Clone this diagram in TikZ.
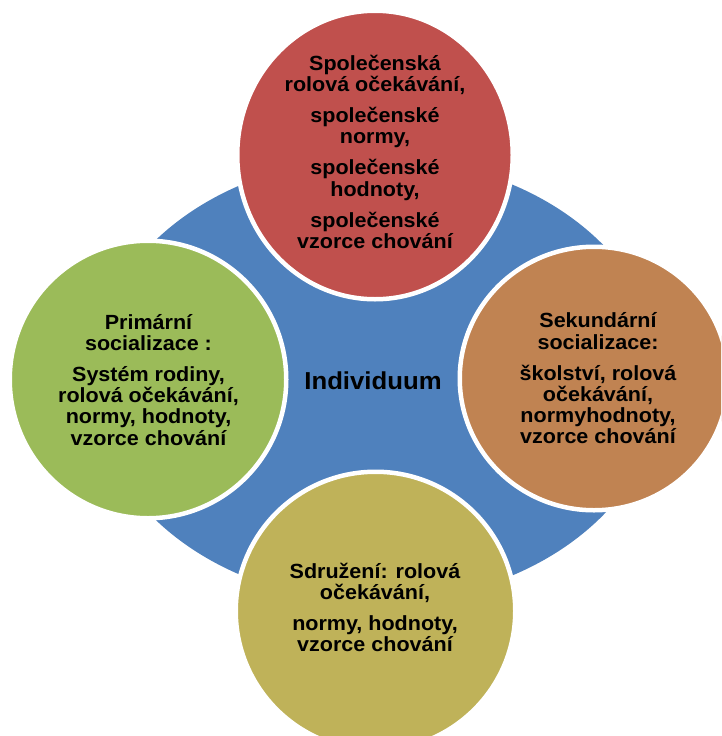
\documentclass[tikz,border=0pt]{standalone}
\usepackage{fontspec}
\setmainfont[FakeStretch=1.05]{Liberation Sans}
\usetikzlibrary{shapes.geometric}
\definecolor{indblue}{HTML}{4F81BD}
\definecolor{socred}{HTML}{C0504D}
\definecolor{primgreen}{HTML}{9BBB59}
\definecolor{sekbrown}{HTML}{C08352}
\definecolor{sdrolive}{HTML}{BFB259}
\begin{document}
\begin{tikzpicture}[x=1pt,y=-1pt]
        \tikzstyle{bubble}=[ellipse,draw=white,line width=4.5pt,inner sep=0pt]
        \tikzstyle{bubbletext}=[align=center,inner sep=0pt,font=\fontsize{20.5}{21.3}\selectfont\bfseries]
        \fill [white] (0,0) rectangle (721,736);
        \clip (0,0) rectangle (721,736);
        % centre
        \node [ellipse,fill=indblue,inner sep=0pt,minimum width=570pt,minimum height=444pt] (ind) at (377,380) {};
        \node [font=\fontsize{24.5}{26}\selectfont\bfseries,inner sep=0pt] (indtext) at (373,380.5) {Individuum};
        % four circles
        \node [bubble,fill=socred,minimum width=275.5pt,minimum height=288.5pt] (soc) at (375,155) {};
        \node [bubble,fill=primgreen,minimum width=276.5pt,minimum height=277.5pt] (prim) at (148,379.5) {};
        \node [bubble,fill=sekbrown,minimum width=268.5pt,minimum height=263.5pt] (sek) at (594,378.5) {};
        \node [bubble,fill=sdrolive,minimum width=279.5pt,minimum height=278.5pt] (sdr) at (375.5,611) {};
        % texts
        \node [bubbletext] (soctext) at (375,151.7) {Společenská\\rolová očekávání,\\[9.7pt]společenské\\normy,\\[9.7pt]společenské\\hodnoty,\\[9.7pt]společenské\\vzorce chování};
        \node [bubbletext] (primtext) at (148.5,379.7) {Primární\\socializace :\\[9.7pt]Systém rodiny,\\rolová očekávání,\\normy, hodnoty,\\vzorce chování};
        \node [bubbletext] (sektext) at (598,378.4) {Sekundární\\socializace:\\[9.7pt]školství, rolová\\očekávání,\\normyhodnoty,\\vzorce chování};
        \node [bubbletext] (sdrtext) at (375,607.5) {Sdružení: rolová\\očekávání,\\[9.7pt]normy, hodnoty,\\vzorce chování};
\end{tikzpicture}
\end{document}
